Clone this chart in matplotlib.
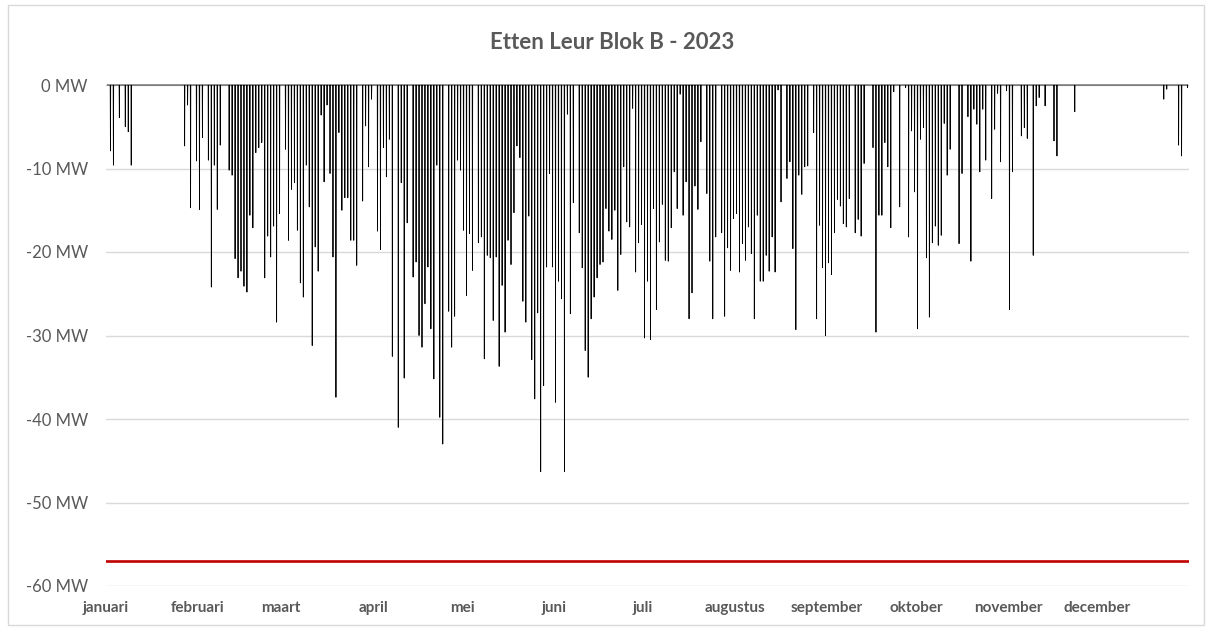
import numpy as np
import matplotlib
matplotlib.use("Agg")
import matplotlib.pyplot as plt
from matplotlib.patches import Rectangle

# day of year (0 = 1 januari) and the lowest value of that day in MW
spike_day = [1, 2, 4, 6, 7, 8,
             26, 27, 28, 30, 31, 32, 34, 35, 36, 37, 38, 41, 42, 43, 44, 45, 46, 47, 48, 49, 50, 51, 52,
             53, 54, 55, 56, 57, 58, 60, 61, 62, 63, 64, 65, 66, 67, 68, 69, 70, 71, 72, 73, 74, 75, 76,
             77, 78, 79, 80, 81, 82, 83, 84, 86, 87, 88, 89,
             91, 92, 93, 94, 95, 96, 98, 99, 100, 101, 103, 104, 105, 106, 107, 108, 109, 110, 111, 112,
             113, 115, 116, 117, 118, 119, 120, 121, 122, 123, 125, 126, 127, 128, 129, 130, 131, 132,
             133, 134, 135, 136, 137, 138, 139, 140, 141, 142, 143, 144, 145, 146, 147, 148, 149, 150,
             151, 152, 153, 154, 155, 156, 157, 159, 160, 161, 162, 163, 164, 165, 166, 167, 168, 169,
             170, 171, 172, 173, 174, 175, 176, 177, 178, 179, 180, 181, 182, 183, 184, 185, 186, 187,
             188, 189, 190, 191, 192, 193, 194, 195, 196, 197, 198, 199, 200, 202, 203, 204, 205, 207,
             208, 209, 210, 211, 212, 213, 214, 215, 216, 217, 218, 219, 220, 221, 222, 223, 224, 225,
             226, 227, 229, 230, 231, 232, 233, 234, 235, 236, 238, 239, 240, 241, 242, 243, 244, 245,
             246, 247, 248, 249, 250, 252, 253, 254, 255, 258, 259, 260, 261, 262, 263, 264, 265, 267,
             269, 270, 271, 272, 273, 274, 275, 276, 277, 278, 279, 280, 281, 282, 283, 284, 287, 288,
             290, 291, 292, 293, 294, 295, 296, 298, 299, 300, 301, 303, 304, 305, 308, 309, 310, 312,
             313, 314, 316, 319, 320, 326, 356, 357, 361, 362, 364]
spike_mw = [-7.9, -9.6, -3.9, -5.0, -5.6, -9.6,
            -7.3, -2.4, -14.7, -9.1, -14.9, -6.3, -9.0, -24.2, -9.6, -14.9, -7.2, -10.2, -10.8, -20.8,
            -23.1, -22.3, -24.1, -24.8, -15.6, -17.1, -8.1, -7.5, -6.9,
            -23.1, -18.1, -20.6, -16.9, -28.4, -15.4, -7.7, -18.6, -12.5, -11.7, -17.4, -23.7, -25.4,
            -9.6, -14.6, -31.2, -19.4, -22.3, -3.6, -11.6, -2.4, -10.6, -20.6,
            -37.4, -5.7, -15.0, -13.5, -13.5, -18.6, -18.6, -21.6, -13.9, -4.9, -9.8, -1.7,
            -17.5, -19.7, -7.5, -11.0, -6.5, -32.5, -41.0, -11.7, -35.1, -16.5, -23.0, -21.2, -30.0,
            -31.4, -26.2, -21.8, -29.2, -35.2, -9.6, -39.8,
            -43.0, -27.1, -31.4, -27.7, -9.0, -10.2, -17.4, -25.2, -17.8, -22.2, -18.9, -18.2, -32.8,
            -20.4, -20.7, -28.2, -20.6, -33.7,
            -24.0, -29.6, -18.6, -21.5, -15.3, -7.3, -8.7, -25.9, -28.4, -15.7, -32.9, -37.6, -27.3,
            -46.3, -36.0, -21.8, -10.6, -21.8,
            -38.0, -23.5, -25.6, -46.3, -3.5, -27.4, -14.1, -17.7, -21.9, -31.8, -35.0, -28.0, -25.4,
            -23.1, -21.5, -21.2, -14.8, -17.5,
            -18.5, -15.0, -24.6, -20.3, -9.8, -16.4, -17.0, -2.8, -22.4, -18.9, -16.7, -30.3, -23.5,
            -30.5, -14.8, -26.9, -18.8, -14.3,
            -21.0, -21.1, -17.1, -10.4, -14.8, -1.1, -15.6, -11.6, -28.0, -24.9, -12.1, -14.9, -6.8,
            -13.0, -21.1, -28.0, -18.2, -17.7,
            -27.7, -19.5, -22.2, -16.0, -15.4, -22.4, -19.0, -21.0, -17.0, -20.2, -28.0, -15.6, -23.5,
            -23.5, -20.4, -22.3, -18.2, -22.4,
            -0.6, -14.0, -11.2, -9.2, -19.6, -29.3, -10.8, -13.1, -9.8, -9.7, -5.7, -28.0, -16.8,
            -21.9, -30.0, -21.3, -22.7, -17.7,
            -13.7, -14.5, -16.6, -17.0, -13.6, -17.7, -16.1, -18.1, -9.4, -7.5, -29.6, -15.6, -15.6,
            -6.9, -9.8, -17.1, -0.8, -14.6,
            -0.3, -18.2, -5.5, -12.8, -29.2, -6.5, -5.1, -20.7, -27.8, -18.9, -16.9, -19.2, -18.0,
            -4.6, -10.8, -7.7, -19.0, -10.6,
            -3.8, -21.1, -2.9, -4.7, -10.4, -2.9, -9.0, -13.6, -5.3, -1.0, -9.2, -0.7, -26.9, -10.4,
            -6.1, -5.1, -6.4, -20.4,
            -2.5, -1.5, -2.5, -6.7, -8.5, -3.2, -1.7, -0.5, -7.2, -8.5, -0.3]

limit_mw = -57
months = ["januari", "februari", "maart", "april", "mei", "juni", "juli",
          "augustus", "september", "oktober", "november", "december"]
month_start = [0, 31, 59, 90, 120, 151, 181, 212, 243, 273, 304, 334]
yticks = [0, -10, -20, -30, -40, -50, -60]

grey = "#595959"
plt.rcParams["font.family"] = ["Lato", "DejaVu Sans"]

# one value per day, night at 0 and a short dip around noon
daily_min = np.zeros(365)
daily_min[spike_day] = spike_mw
days = np.arange(365)
x = (days[:, None] + np.array([0.42, 0.5, 0.58])).ravel()
y = np.column_stack([np.zeros(365), daily_min, np.zeros(365)]).ravel()

fig = plt.figure(figsize=(12.12, 6.30), dpi=100)
fig.patches.append(Rectangle((8 / 1212, 5 / 630), 1196 / 1212, 620 / 630,
                             transform=fig.transFigure, fill=False,
                             edgecolor="#d9d9d9", linewidth=1))
ax = fig.add_axes([106 / 1212, 44 / 630, 1083 / 1212, 501 / 630])

ax.plot(x, y, color="black", linewidth=0.6, clip_on=False, zorder=3)
ax.plot([0, 365], [limit_mw, limit_mw], color="#c00000", linewidth=1.9, zorder=2)

ax.set_xlim(0, 365)
ax.set_ylim(-60, 0)
ax.set_yticks(yticks)
ax.set_yticklabels([f"{v} MW" for v in yticks])
ax.set_xticks(month_start)
ax.set_xticklabels(months, fontweight="bold")
ax.tick_params(axis="y", length=0, pad=13, labelsize=12, labelcolor=grey)
ax.tick_params(axis="x", length=0, pad=11, labelsize=11, labelcolor=grey)
ax.grid(axis="y", color="#d9d9d9", linewidth=1)
ax.set_axisbelow(True)
for s in ax.spines.values():
    s.set_visible(False)

fig.text(0.505, 0.933, "Etten Leur Blok B - 2023", ha="center", va="center",
         fontsize=16, fontweight="bold", color=grey)

plt.savefig("out.png", dpi=100)
